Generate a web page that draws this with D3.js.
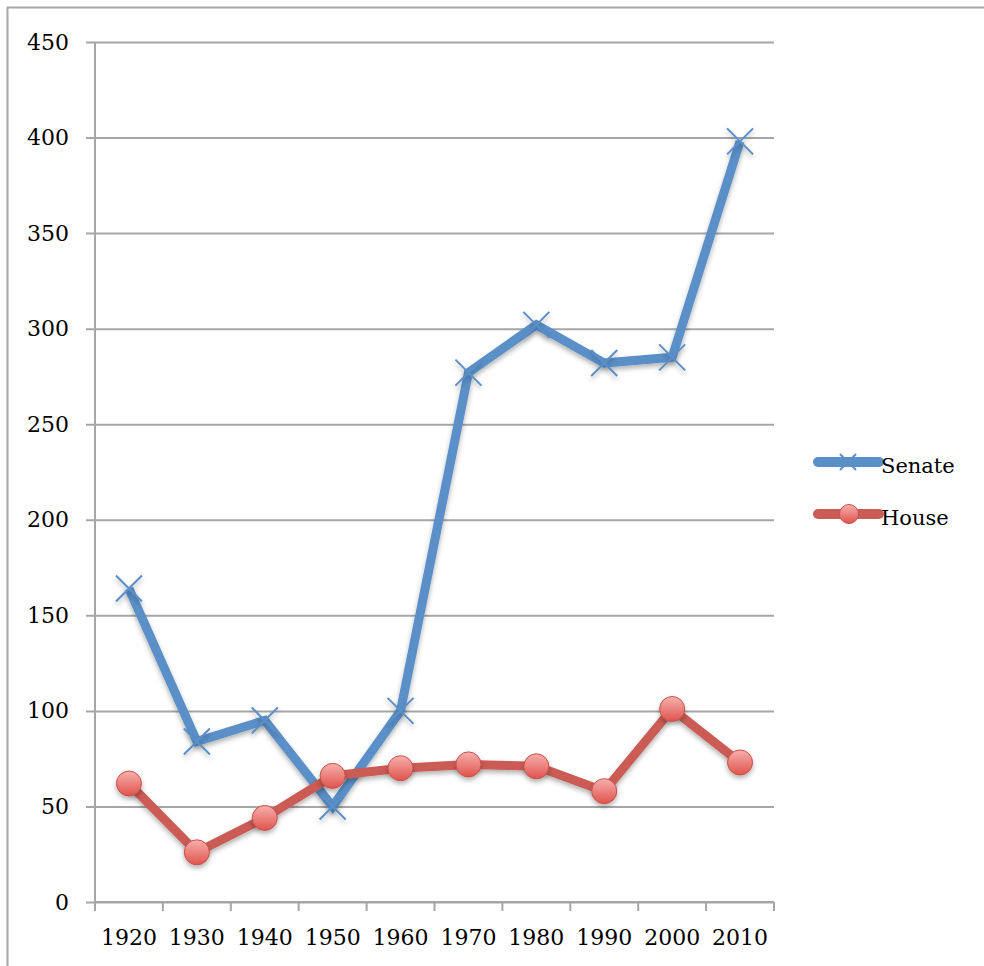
<!DOCTYPE html>
<html lang="en">
<head>
  <meta charset="UTF-8">
  <title>Senate vs House</title>
  <script src="https://d3js.org/d3.v7.min.js"></script>
  <style>
    body { margin: 0; background: #fff; }
    svg text { font-family: "DejaVu Serif", serif; fill: #000; }
  </style>
</head>
<body>
<svg id="chart" width="984" height="966"></svg>
<script>
  // Données
  const decades = ["1920", "1930", "1940", "1950", "1960", "1970", "1980", "1990", "2000", "2010"];
  const senate = [164, 84, 95, 50, 100, 277, 302, 282, 285, 398];
  const house = [62, 26, 44, 66, 70, 72, 71, 58, 101, 73];
  const yTicks = [0, 50, 100, 150, 200, 250, 300, 350, 400, 450];

  const blue = "#5a8fc8";
  const red = "#cb5b55";

  const svg = d3.select("#chart");
  const margin = {top: 42, left: 95, right: 210, bottom: 64};
  const width = 774 - margin.left;
  const height = 902 - margin.top;

  // Cadre extérieur
  svg.append("path")
     .attr("d", "M7.5,966 V7.5 H984")
     .attr("fill", "none")
     .attr("stroke", "#a6a6a6")
     .attr("stroke-width", 2);

  const defs = svg.append("defs");
  const shadow = defs.append("filter")
                     .attr("id", "shadow")
                     .attr("x", "-50%").attr("y", "-50%")
                     .attr("width", "200%").attr("height", "200%");
  shadow.append("feDropShadow")
        .attr("dx", 0).attr("dy", 3)
        .attr("stdDeviation", 2.5)
        .attr("flood-color", "#000")
        .attr("flood-opacity", 0.3);

  const ballGrad = defs.append("linearGradient")
                       .attr("id", "ball")
                       .attr("x1", 0).attr("y1", 0)
                       .attr("x2", 0).attr("y2", 1);
  ballGrad.append("stop").attr("offset", "0%").attr("stop-color", "#f7b0ad");
  ballGrad.append("stop").attr("offset", "100%").attr("stop-color", "#e0534d");

  const g = svg.append("g")
               .attr("transform", `translate(${margin.left},${margin.top})`);

  const x = d3.scaleBand().domain(decades).range([0, width]);
  const y = d3.scaleLinear().domain([0, 450]).range([height, 0]);

  // Grille + axe Y
  const yAxis = g.append("g")
                 .call(d3.axisLeft(y).tickValues(yTicks).tickSize(-width).tickPadding(26))
                 .call(a => a.select(".domain").remove());
  yAxis.selectAll(".tick line")
       .attr("x1", -9)
       .attr("stroke", "#a6a6a6")
       .attr("stroke-width", 2);
  yAxis.selectAll("text").attr("font-size", 22);

  g.append("line")
   .attr("x1", 0).attr("x2", 0)
   .attr("y1", 0).attr("y2", height)
   .attr("stroke", "#a6a6a6")
   .attr("stroke-width", 2);

  // Axe X (graduations entre les catégories)
  const xAxis = g.append("g")
                 .attr("transform", `translate(0,${height})`);
  xAxis.append("line")
       .attr("x1", 0).attr("x2", width)
       .attr("stroke", "#a6a6a6").attr("stroke-width", 2);
  xAxis.selectAll(".xt")
       .data(d3.range(decades.length + 1))
       .enter().append("line")
       .attr("x1", i => i * x.step()).attr("x2", i => i * x.step())
       .attr("y1", 0).attr("y2", 9)
       .attr("stroke", "#a6a6a6").attr("stroke-width", 2);
  xAxis.selectAll(".xl")
       .data(decades)
       .enter().append("text")
       .attr("x", d => x(d) + x.bandwidth() / 2)
       .attr("y", 43)
       .attr("text-anchor", "middle")
       .attr("font-size", 22)
       .text(d => d);

  const cx = i => x(decades[i]) + x.bandwidth() / 2;
  const line = d3.line().x((d, i) => cx(i)).y(d => y(d));

  // Série Senate
  g.append("path")
   .datum(senate)
   .attr("d", line)
   .attr("fill", "none")
   .attr("stroke", blue)
   .attr("stroke-width", 9)
   .attr("stroke-linejoin", "miter")
   .attr("filter", "url(#shadow)");

  g.selectAll(".cross")
   .data(senate)
   .enter().append("path")
   .attr("class", "cross")
   .attr("d", (d, i) => {
     const px = cx(i), py = y(d), s = 13;
     return `M${px - s},${py - s}L${px + s},${py + s}M${px - s},${py + s}L${px + s},${py - s}`;
   })
   .attr("stroke", blue)
   .attr("stroke-width", 2)
   .attr("filter", "url(#shadow)");

  // Série House
  g.append("path")
   .datum(house)
   .attr("d", line)
   .attr("fill", "none")
   .attr("stroke", red)
   .attr("stroke-width", 9)
   .attr("filter", "url(#shadow)");

  g.selectAll(".ball")
   .data(house)
   .enter().append("circle")
   .attr("class", "ball")
   .attr("cx", (d, i) => cx(i))
   .attr("cy", d => y(d))
   .attr("r", 12.5)
   .attr("fill", "url(#ball)")
   .attr("stroke", "#c9504a")
   .attr("stroke-width", 1)
   .attr("filter", "url(#shadow)");

  // Légende
  const legend = svg.append("g").attr("transform", "translate(818,0)");
  const items = [
    {name: "Senate", color: blue, y: 462, marker: "cross"},
    {name: "House", color: red, y: 514, marker: "ball"}
  ];
  items.forEach(it => {
    legend.append("line")
          .attr("x1", 0).attr("x2", 61)
          .attr("y1", it.y).attr("y2", it.y)
          .attr("stroke", it.color)
          .attr("stroke-width", 10)
          .attr("stroke-linecap", "round");
    if (it.marker === "cross") {
      legend.append("path")
            .attr("d", `M${30 - 8},${it.y - 8}L${30 + 8},${it.y + 8}M${30 - 8},${it.y + 8}L${30 + 8},${it.y - 8}`)
            .attr("stroke", it.color)
            .attr("stroke-width", 2);
    } else {
      legend.append("circle")
            .attr("cx", 31).attr("cy", it.y)
            .attr("r", 9.5)
            .attr("fill", "url(#ball)")
            .attr("stroke", "#c9504a")
            .attr("stroke-width", 1);
    }
    legend.append("text")
          .attr("x", 63)
          .attr("y", it.y + 11)
          .attr("font-size", 21)
          .text(it.name);
  });
</script>
</body>
</html>
